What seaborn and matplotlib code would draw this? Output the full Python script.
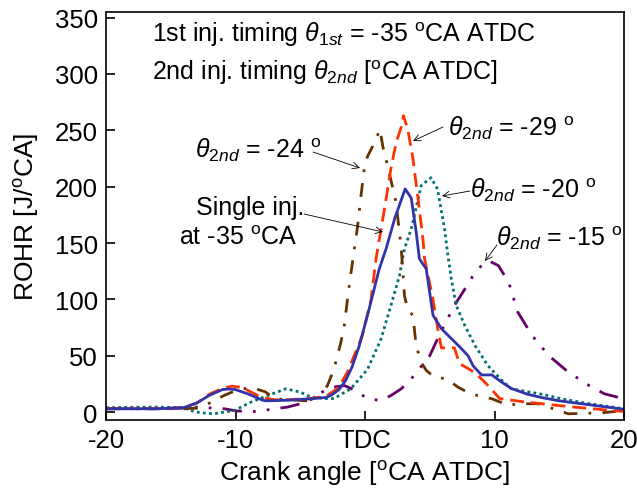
import numpy as np
import pandas as pd
import matplotlib
matplotlib.use("Agg")
import matplotlib.pyplot as plt
import seaborn as sns

# ---------------- data ----------------
single_x = [-20, -16, -14, -13, -12, -11, -10.5, -10, -9, -8, -7.7, -6, -4, -3, -2.6, -2, -1.5, -1, -0.44,
            0.33, 1.1, 1.63, 2.3, 3.1, 3.57, 3.95, 4.2, 4.73, 5.25, 5.9, 6.6, 7.3, 7.96, 8.35, 9.0, 9.8,
            10.5, 11.3, 12.5, 13.6, 15, 17, 20]
single_y = [3, 3, 4, 8, 15, 20, 20.5, 20, 16, 11, 10, 10.5, 12, 13, 15, 20, 28, 40, 59,
            92, 127, 145, 172, 198, 190, 160, 136, 127, 86, 74, 66, 58, 50, 41, 33, 33,
            27, 21, 16, 13, 10, 7, 2.5]

m29_x = [-20, -16, -14, -13, -12, -11, -10.3, -9.5, -9, -8, -7, -6, -4.4, -3, -2, -1.3, -0.2, 0.47, 0.85,
         1.5, 2.0, 2.4, 2.8, 2.97, 3.3, 3.7, 4.1, 4.47, 4.6, 5.25, 5.6, 5.9, 6.6, 6.9, 7.3, 8.5, 9.5,
         10.4, 12.35, 14, 16.2, 20]
m29_y = [3, 3, 4, 8, 16, 21, 23, 22, 19, 13, 11, 11, 12, 14, 22, 37, 68, 100, 136,
         180, 216, 239, 253, 263, 251, 225, 189, 154, 136, 100, 75, 57, 57, 57, 43, 35, 23.6,
         12, 9, 7, 4.4, 0.5]

m24_x = [-20, -16, -14, -13, -12, -10.9, -10, -8.8, -7.7, -7, -6, -4.4, -3.5, -2.9, -2.4, -1.86, -1.6,
         -1.2, -0.88, -0.57, -0.31, -0.05, 0.2, 0.6, 1.06, 1.16, 1.37, 1.8, 2.4, 2.8, 3.05, 3.3, 3.7,
         3.95, 4.34, 4.73, 5.37, 6.3, 7.2, 8.2, 9.8, 11.1, 11.8, 13.4, 15.7, 18.3, 20]
m24_y = [3, 3, 3, 3.5, 8, 14.7, 19, 22, 18, 12, 11, 10, 13, 23.6, 38, 62, 77,
         114, 140, 165, 192, 217, 227, 236, 248, 251, 236, 216, 186, 145, 103, 91.6, 85.6,
         59, 44, 37, 31, 29.5, 22, 16, 11.8, 6, 7.4, 7.4, -1.5, -0.6, 1.4]

m20_x = [-20, -16, -14, -13.5, -12.7, -11.7, -10.1, -8.8, -7.5, -6.1, -5, -4.2, -3, -2.4, -1.1, 0.2,
         1.24, 2.0, 2.66, 3.05, 3.57, 4.1, 4.34, 5.1, 5.6, 6.15, 6.4, 6.67, 7.05, 7.7, 8.5, 9.5,
         10.7, 11.3, 13.6, 15.2, 17, 20]
m20_y = [4, 4.5, 4, 1.5, -0.6, -1.5, 1.4, 8.9, 14.7, 20.7, 17.7, 13.5, 12, 12, 20.7, 38,
         65, 94.5, 121, 145, 162.5, 189, 201, 208, 198, 162, 139, 118, 94.5, 77, 59, 41,
         26.6, 20.7, 16, 11.8, 8, 3]

m15_x = [-20, -16, -14, -13, -10.9, -9.9, -8.3, -7.0, -6, -5, -4, -3.15, -2.5, -1.6, -0.7, 0.2, 1.24,
         2.0, 2.8, 3.57, 4.2, 5.0, 5.6, 6.3, 6.9, 7.7, 8.5, 9.25, 9.6, 10.3, 11.1, 11.8, 12.9, 14.2,
         15.7, 17.3, 18.5, 20]
m15_y = [3, 3, 3.5, 4.4, 3, 1, 0.5, 3, 4.4, 7.4, 12, 19, 22, 23.6, 19, 11.8, 10.3,
         14.7, 20.7, 29.5, 38.4, 50, 65, 81, 94.5, 109, 124, 133, 134, 130, 115, 88.7, 68, 50,
         35.5, 23.6, 16.2, 11.8]

x_ticks = [-20, -10, 0, 10, 20]
x_tick_labels = ["-20", "-10", "TDC", "10", "20"]
y_ticks = [0, 50, 100, 150, 200, 250, 300, 350]

# ---------------- style ----------------
sns.set_theme(style="white")
plt.rcParams["font.family"] = ["Liberation Sans", "DejaVu Sans"]
plt.rcParams["mathtext.fontset"] = "custom"
plt.rcParams["mathtext.rm"] = "Liberation Sans"
plt.rcParams["mathtext.it"] = "Liberation Sans:italic"
plt.rcParams["text.color"] = "black"
plt.rcParams["axes.labelcolor"] = "black"
plt.rcParams["xtick.color"] = "black"
plt.rcParams["ytick.color"] = "black"

fig = plt.figure(figsize=(6.37, 5.02), dpi=100)
ax = fig.add_axes([106 / 637, 81 / 502, (624 - 106) / 637, (421 - 13) / 502])

series = [
    (m15_x, m15_y, "#660066", (0, (7, 4, 1, 4, 1, 4))),
    (m20_x, m20_y, "#007070", (0, (1, 1.2))),
    (m24_x, m24_y, "#663300", (0, (5, 4, 1, 4))),
    (m29_x, m29_y, "#ff3300", (0, (5, 2.5))),
    (single_x, single_y, "#3333aa", "-"),
]
for xs, ys, col, ls in series:
    df = pd.DataFrame({"x": xs, "y": ys})
    sns.lineplot(data=df, x="x", y="y", ax=ax, color=col, linewidth=2.0,
                 sort=False, estimator=None)
    ax.lines[-1].set_linestyle(ls)

ax.set_xlim(-20, 20)
ax.set_ylim(-7, 355)
ax.set_xticks(x_ticks)
ax.set_xticklabels(x_tick_labels)
ax.set_yticks(y_ticks)
ax.tick_params(direction="in", length=6.5, width=1.2, labelsize=18.5, colors="black", pad=6,
               left=True, bottom=True)
for s in ax.spines.values():
    s.set_color("black")
    s.set_linewidth(1.2)
ax.set_xlabel("Crank angle [$^{\\mathrm{o}}$CA ATDC]", fontsize=19, labelpad=4)
ax.set_ylabel("ROHR [J/$^{\\mathrm{o}}$CA]", fontsize=19, labelpad=10)

fs = 18
ax.text(0.089, 0.947, "1st inj. timing $\\theta_{1st}$ = -35 $^{\\mathrm{o}}$CA ATDC",
        transform=ax.transAxes, fontsize=fs, va="center", ha="left")
ax.text(0.089, 0.854, "2nd inj. timing $\\theta_{2nd}$ [$^{\\mathrm{o}}$CA ATDC]",
        transform=ax.transAxes, fontsize=fs, va="center", ha="left")

def px2data(px, py):
    inv = ax.transData.inverted()
    return inv.transform((px, 502 - py))

fig.canvas.draw()
arrow = dict(arrowstyle="->", color="black", lw=0.6, shrinkA=0, shrinkB=0)

def annot(txt, tx, ty, ax0, ay0, ax1, ay1):
    ax.text(*px2data(tx, ty), txt, fontsize=fs, ha="left", va="center")
    ax.annotate("", xy=px2data(ax1, ay1), xytext=px2data(ax0, ay0), arrowprops=arrow)

annot("$\\theta_{2nd}$ = -24 $^{\\mathrm{o}}$", 195, 150, 313, 153, 360, 169)
annot("$\\theta_{2nd}$ = -29 $^{\\mathrm{o}}$", 448, 128, 443, 128, 413, 142)
annot("$\\theta_{2nd}$ = -20 $^{\\mathrm{o}}$", 470, 190, 470, 192, 442, 197)
annot("$\\theta_{2nd}$ = -15 $^{\\mathrm{o}}$", 496, 238, 497, 246, 485, 262)
ax.text(*px2data(250, 208), "Single inj.", fontsize=fs, ha="center", va="center")
ax.text(*px2data(238, 238), "at -35 $^{\\mathrm{o}}$CA", fontsize=fs, ha="center", va="center")
ax.annotate("", xy=px2data(383, 233), xytext=px2data(304, 215), arrowprops=arrow)

fig.savefig("out.png", dpi=100)
